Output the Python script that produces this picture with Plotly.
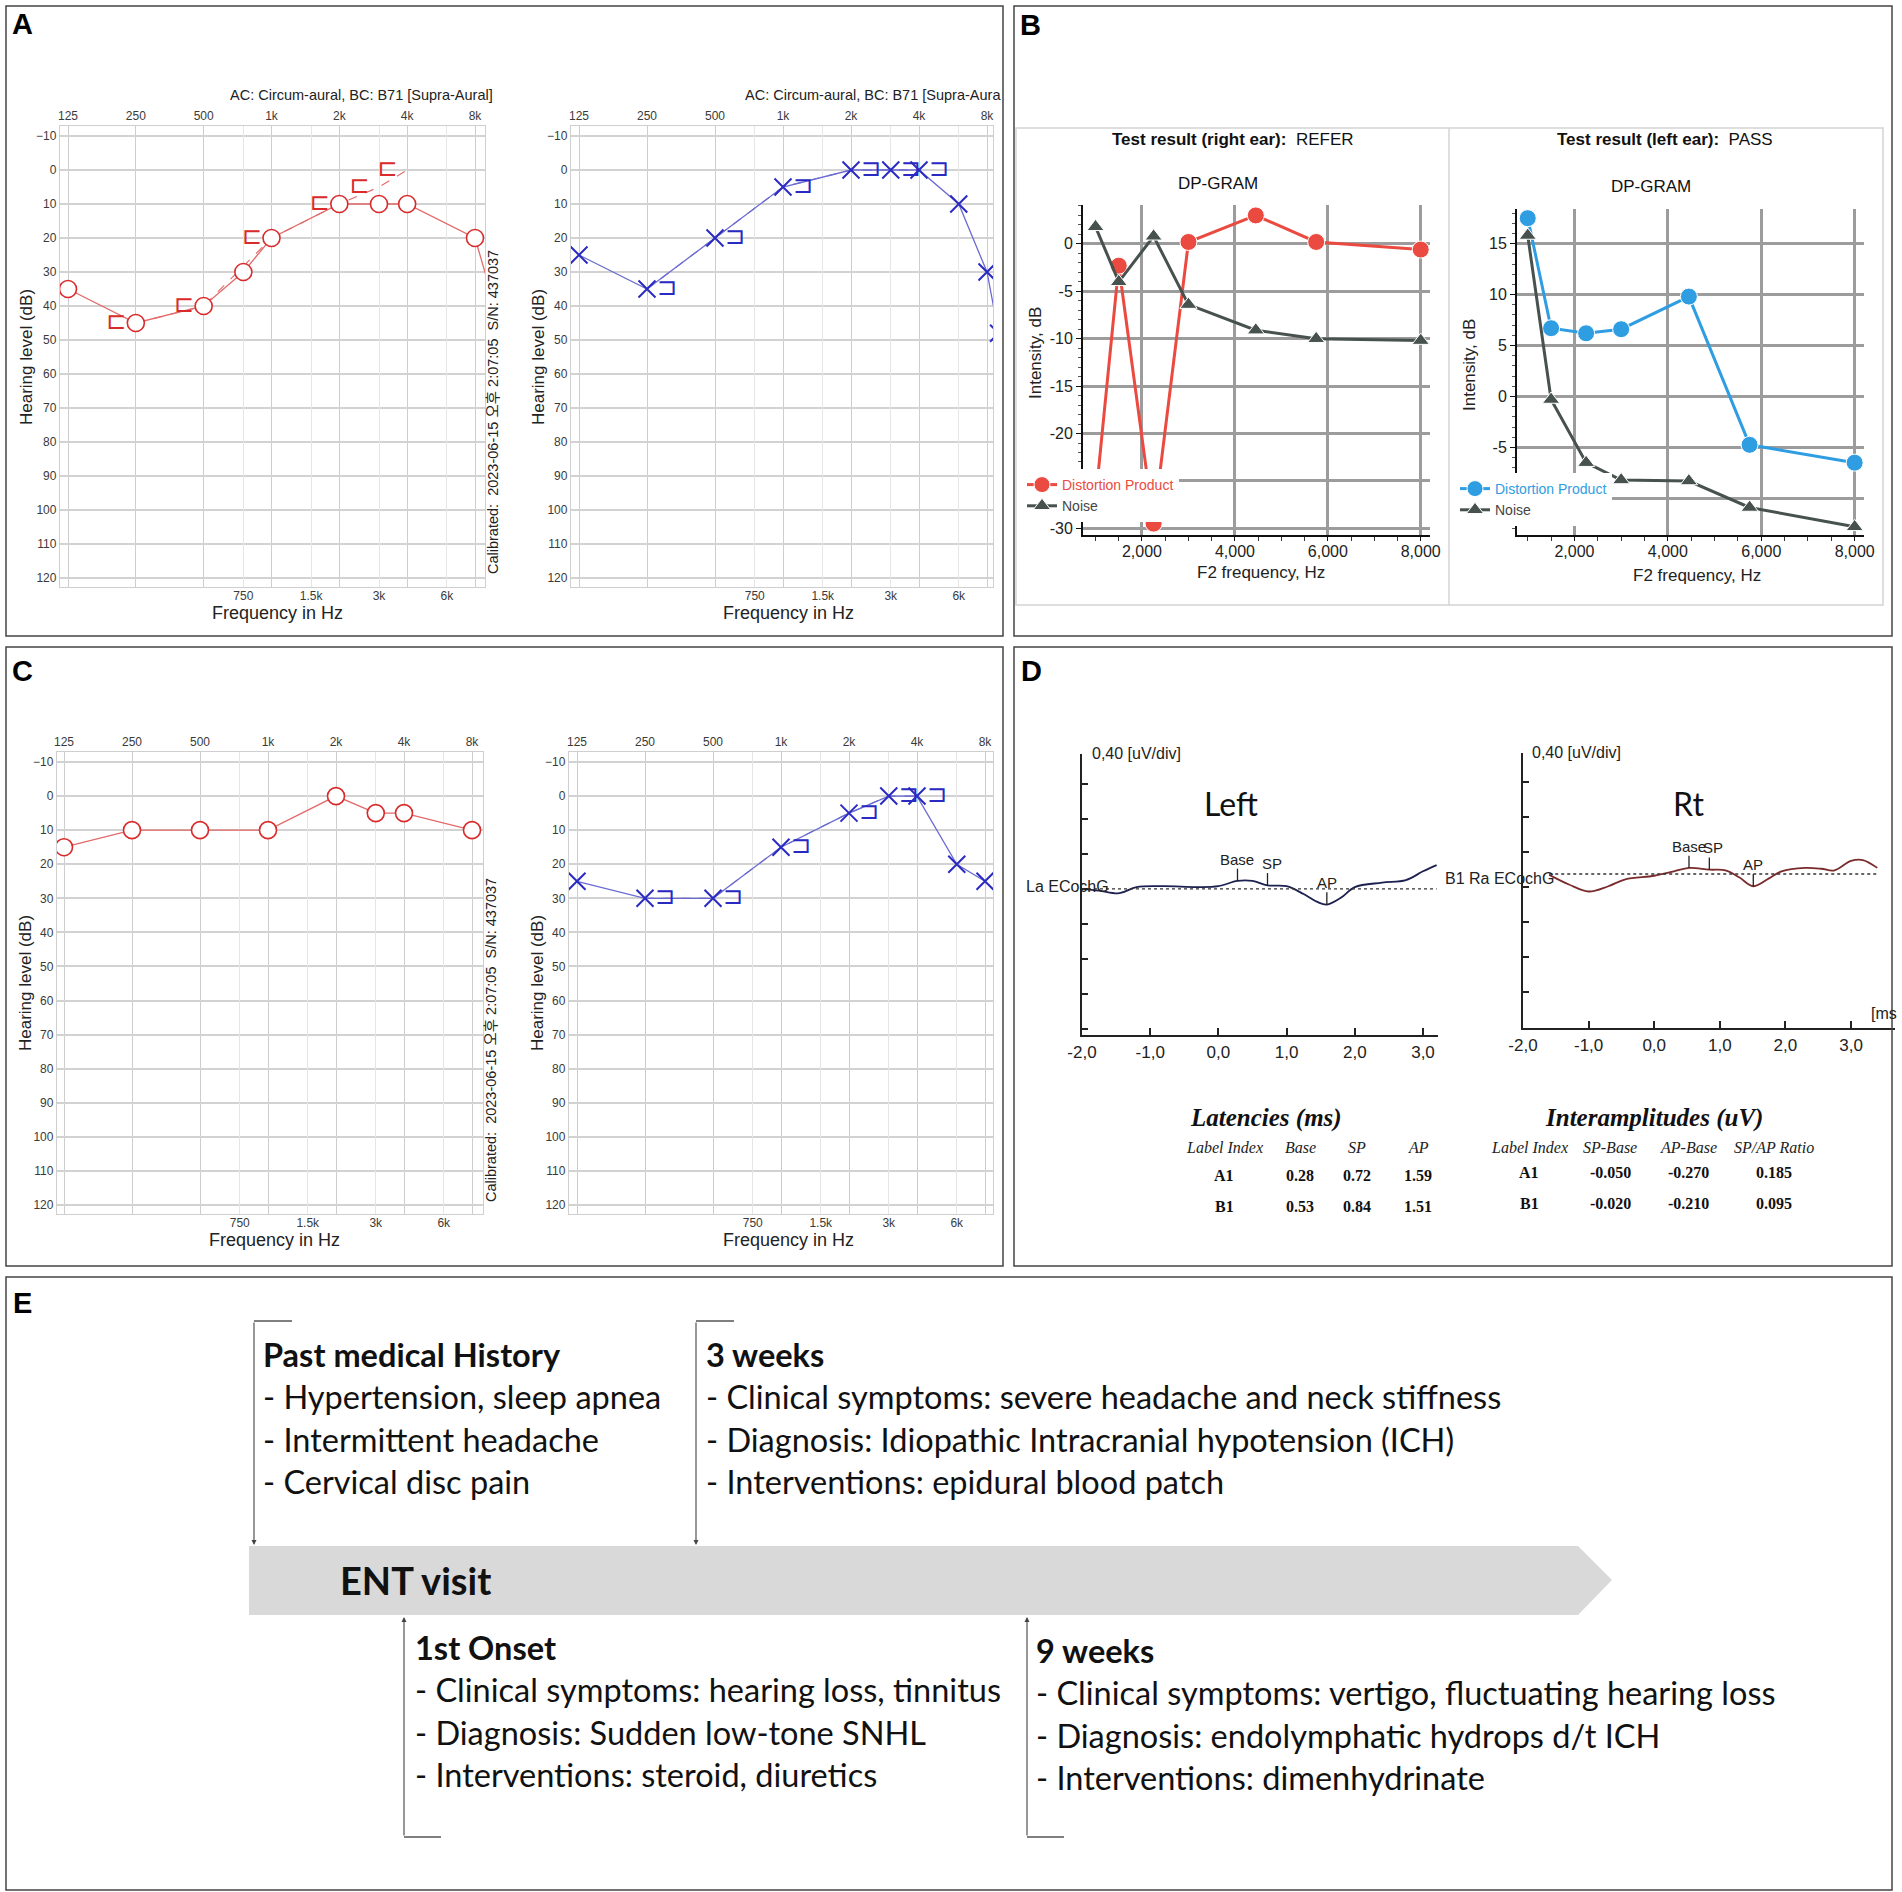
import math
import plotly.graph_objects as go

W, H = 1902, 1892


def X(p):
    return p / W


def Y(p):
    return 1 - p / H


# ---------------------------------------------------------------- data
# Panel A (initial audiogram) - right ear (red): air conduction (O), bone conduction ([)
a_r_ac_hz = [125, 250, 500, 750, 1000, 2000, 3000, 4000, 8000, 10000]
a_r_ac_db = [35, 45, 40, 30, 20, 10, 10, 10, 20, 42]
a_r_bc_hz = [250, 500, 1000, 2000, 3000, 4000]
a_r_bc_db = [45, 40, 20, 10, 5, 0]
# Panel A - left ear (blue): air conduction (X), bone conduction (])
a_l_ac_hz = [125, 250, 500, 1000, 2000, 3000, 4000, 6000, 8000, 9000]
a_l_ac_db = [25, 35, 20, 5, 0, 0, 0, 10, 30, 48]
a_l_bc_hz = [250, 500, 1000, 2000, 3000, 4000]
a_l_bc_db = [35, 20, 5, 0, 0, 0]
# Panel C (follow-up audiogram)
c_r_ac_hz = [125, 250, 500, 1000, 2000, 3000, 4000, 8000]
c_r_ac_db = [15, 10, 10, 10, 0, 5, 5, 10]
c_l_ac_hz = [125, 250, 500, 1000, 2000, 3000, 4000, 6000, 8000]
c_l_ac_db = [25, 30, 30, 15, 5, 0, 0, 20, 25]
c_l_bc_hz = [250, 500, 1000, 2000, 3000, 4000]
c_l_bc_db = [30, 30, 15, 5, 0, 0]

aud_major_hz = [125, 250, 500, 1000, 2000, 4000, 8000]
aud_major_lbl = ["125", "250", "500", "1k", "2k", "4k", "8k"]
aud_minor_hz = [750, 1500, 3000, 6000]
aud_minor_lbl = ["750", "1.5k", "3k", "6k"]
aud_db_ticks = list(range(-10, 121, 10))

# Panel B (DPOAE)
dp_hz = [1000, 1500, 2250, 3000, 4450, 5750, 8000]
dp_right_dp = [-27.0, -2.3, -29.5, 0.2, 3.0, 0.2, -0.6]
dp_right_noise = [1.8, -4.0, 0.8, -6.4, -9.1, -10.0, -10.2]
dp_left_dp = [17.5, 6.7, 6.2, 6.6, 9.8, -4.75, -6.5]
dp_left_noise = [15.8, -0.3, -6.5, -8.2, -8.3, -10.9, -12.8]
# y tick labels (the ones behind the legend box are not visible in the original)
dp_right_yticks = [-30, -25, -20, -15, -10, -5, 0]
dp_right_ylbl = ["-30", "", "-20", "-15", "-10", "-5", "0"]
dp_left_yticks = [-10, -5, 0, 5, 10, 15]
dp_left_ylbl = ["", "-5", "0", "5", "10", "15"]

# Panel D (ECochG)
ecg_left_ms = [-2.0, -1.75, -1.45, -1.2, -0.8, -0.3, 0.0, 0.28, 0.5, 0.72, 1.0, 1.25,
               1.45, 1.59, 1.8, 2.0, 2.4, 2.75, 3.0, 3.2]
ecg_left_uv = [0.0, -0.02, -0.05, 0.02, 0.03, 0.02, 0.03, 0.09, 0.09, 0.04, 0.03, -0.06,
               -0.15, -0.18, -0.10, 0.02, 0.07, 0.10, 0.20, 0.27]
ecg_right_ms = [-1.6, -1.3, -1.0, -0.7, -0.44, 0.0, 0.3, 0.53, 0.84, 1.1, 1.3, 1.51,
                1.75, 1.94, 2.3, 2.55, 2.74, 3.0, 3.18, 3.4]
ecg_right_uv = [-0.01, -0.12, -0.20, -0.14, -0.06, -0.02, 0.03, 0.07, 0.05, 0.04, -0.04,
                -0.14, -0.05, 0.03, 0.07, 0.06, 0.04, 0.15, 0.16, 0.07]
ecg_ticks_ms = [-2, -1, 0, 1, 2, 3]
ecg_tick_lbl = ["-2,0", "-1,0", "0,0", "1,0", "2,0", "3,0"]
ecg_base_uv = [0.09, 0.07]  # trace level at Base marker (A1 = left, B1 = right)

tbl_index = ["A1", "B1"]
lat_base = [0.28, 0.53]
lat_sp = [0.72, 0.84]
lat_ap = [1.59, 1.51]
amp_sp_base = [-0.050, -0.020]
amp_ap_base = [-0.270, -0.210]
sp_ap_ratio = [0.185, 0.095]

# Panel E (timeline)
tl_past = ["Past medical History", "- Hypertension, sleep apnea",
           "- Intermittent headache", "- Cervical disc pain"]
tl_3w = ["3 weeks", "- Clinical symptoms: severe headache and neck stiffness",
         "- Diagnosis: Idiopathic Intracranial hypotension (ICH)",
         "- Interventions: epidural blood patch"]
tl_onset = ["1st Onset", "- Clinical symptoms: hearing loss, tinnitus",
            "- Diagnosis: Sudden low-tone SNHL", "- Interventions: steroid, diuretics"]
tl_9w = ["9 weeks", "- Clinical symptoms: vertigo, fluctuating hearing loss",
         "- Diagnosis: endolymphatic hydrops d/t ICH", "- Interventions: dimenhydrinate"]

# ---------------------------------------------------------------- style
SANS = "Liberation Sans, Arial, Noto Sans CJK KR, sans-serif"
NARROW = "Liberation Sans Narrow, Liberation Sans, Arial, sans-serif"
SERIF = "Liberation Serif, Times New Roman, serif"
CAL = "Lato, Noto Sans, sans-serif"
RED = "#d92b2b"
RED_LINE = "#e26a6a"
BLUE = "#2a2ac2"
BLUE_LINE = "#6b6bd2"
TICKF = dict(family=SANS, size=12, color="#3a3a3a")

layout = dict(template="none", width=W, height=H,
              margin=dict(l=0, r=0, t=0, b=0, pad=0, autoexpand=False), autosize=False,
              paper_bgcolor="white", plot_bgcolor="white", showlegend=True,
              font=dict(family=SANS, color="#222"), shapes=[], annotations=[])
traces = []


def sfx(n):
    return "" if n == 1 else str(n)


def ann(x, y, text, size, color="#222", family=SANS, xanchor="center",
        yanchor="middle", angle=0):
    layout["annotations"].append(dict(
        x=X(x), y=Y(y), xref="paper", yref="paper", text=text, showarrow=False,
        font=dict(size=size, color=color, family=family),
        xanchor=xanchor, yanchor=yanchor, textangle=angle))


def line(x0, y0, x1, y1, color="#444", width=1.5, dash="solid"):
    layout["shapes"].append(dict(type="line", xref="paper", yref="paper",
                                 x0=X(x0), y0=Y(y0), x1=X(x1), y1=Y(y1),
                                 line=dict(color=color, width=width, dash=dash),
                                 layer="above"))


def rect(x0, y0, x1, y1, color="#444", width=1.5):
    layout["shapes"].append(dict(type="rect", xref="paper", yref="paper",
                                 x0=X(x0), y0=Y(y0), x1=X(x1), y1=Y(y1),
                                 line=dict(color=color, width=width),
                                 fillcolor="rgba(0,0,0,0)", layer="above"))


# ---------------------------------------------------------------- audiograms
def audiogram(n, left, right, p125, p8k, ym10, y120, top, bottom):
    per = (math.log10(8000) - math.log10(125)) / (p8k - p125)
    xr = [math.log10(125) - (p125 - left) * per, math.log10(8000) + (right - p8k) * per]
    pxdb = (y120 - ym10) / 130.0
    yr = [120 + (bottom - y120) / pxdb, -10 - (ym10 - top) / pxdb]
    layout["xaxis" + sfx(n)] = dict(
        domain=[X(left), X(right)], type="log", range=xr, side="top",
        anchor="y" + sfx(n), tickmode="array", tickvals=aud_major_hz,
        ticktext=aud_major_lbl, showgrid=True, gridcolor="#cdcdcd", gridwidth=1.3,
        showline=True, linecolor="#cfcfcf", linewidth=1.3, mirror=True, ticks="",
        tickfont=TICKF, zeroline=False, fixedrange=True, automargin=False)
    layout["xaxis" + sfx(n + 1)] = dict(
        overlaying="x" + sfx(n), anchor="y" + sfx(n), type="log", range=xr,
        side="bottom", tickmode="array", tickvals=aud_minor_hz, ticktext=aud_minor_lbl,
        showgrid=True, gridcolor="#e6e6e6", gridwidth=1, showline=False, ticks="",
        tickfont=TICKF, zeroline=False, fixedrange=True, automargin=False)
    layout["yaxis" + sfx(n)] = dict(
        domain=[Y(bottom), Y(top)], range=yr, anchor="x" + sfx(n), tickmode="array",
        tickvals=aud_db_ticks, showgrid=True, gridcolor="#d2d2d2", gridwidth=1.5,
        zeroline=False, showline=True, linecolor="#cfcfcf", linewidth=1.3, mirror=True,
        ticks="", tickfont=TICKF, fixedrange=True, automargin=False)


def ac_line(n, hz, db, ear):
    ln = dict(color=RED_LINE if ear == "R" else BLUE_LINE, width=1.3)
    traces.append(go.Scatter(x=hz, y=db, xaxis="x" + sfx(n), yaxis="y" + sfx(n),
                             mode="lines", line=ln, showlegend=False, hoverinfo="skip"))


def ac_marks(n, hz, db, ear):
    if ear == "R":
        mk = dict(symbol="circle", size=17, color="white", line=dict(color=RED, width=1.6))
    else:
        mk = dict(symbol="x-thin-open", size=17, color=BLUE, line=dict(width=2))
    traces.append(go.Scatter(x=hz, y=db, xaxis="x" + sfx(n + 1), yaxis="y" + sfx(n),
                             mode="markers", marker=mk, showlegend=False, hoverinfo="skip"))


def bc_trace(n, hz, db, ear):
    if ear == "R":
        txt, pos, col, lcol = "\u228f", "middle left", RED, RED_LINE
    else:
        txt, pos, col, lcol = "\u2290", "middle right", BLUE, BLUE_LINE
    traces.append(go.Scatter(x=hz, y=db, xaxis="x" + sfx(n + 1), yaxis="y" + sfx(n),
                             mode="lines+markers+text", text=[txt] * len(hz),
                             textposition=pos,
                             textfont=dict(family="DejaVu Sans", size=24, color=col),
                             marker=dict(size=14, color="rgba(0,0,0,0)"),
                             line=dict(color=lcol, width=1.1, dash="dash"),
                             showlegend=False, hoverinfo="skip"))


# A left (right ear), A right (left ear), C left, C right
audiogram(1, 60, 485, 68, 475, 136, 578, 126, 587)
audiogram(3, 571, 993, 579, 987, 136, 578, 126, 587)
audiogram(5, 57, 483, 64, 472, 762, 1205, 752, 1214)
audiogram(7, 569, 993, 577, 985, 762, 1205, 752, 1214)

ac_line(1, a_r_ac_hz, a_r_ac_db, "R")
bc_trace(1, a_r_bc_hz, a_r_bc_db, "R")
ac_marks(1, a_r_ac_hz, a_r_ac_db, "R")
ac_line(3, a_l_ac_hz, a_l_ac_db, "L")
bc_trace(3, a_l_bc_hz, a_l_bc_db, "L")
ac_marks(3, a_l_ac_hz, a_l_ac_db, "L")
ac_line(5, c_r_ac_hz, c_r_ac_db, "R")
ac_marks(5, c_r_ac_hz, c_r_ac_db, "R")
ac_line(7, c_l_ac_hz, c_l_ac_db, "L")
bc_trace(7, c_l_bc_hz, c_l_bc_db, "L")
ac_marks(7, c_l_ac_hz, c_l_ac_db, "L")

for (xc, ym) in [(27, 357), (539, 357), (25, 983), (537, 983)]:
    ann(xc, ym, "Hearing level (dB)", 17, "#222", SANS, angle=-90)
for (xc, ym) in [(277, 613), (788, 613), (274, 1240), (788, 1240)]:
    ann(xc, ym, "Frequency in Hz", 18, "#222", SANS)
ann(495, 95, "AC: Circum-aural, BC: B71 [Supra-Aural]", 14.5, "#222", SANS, xanchor="right")
ann(743, 95, "AC: Circum-aural, BC: B71 [Supra-Aura", 14.5, "#222", SANS, xanchor="left")
ann(493, 412, "Calibrated:  2023-06-15 \uc624\ud6c4 2:07:05  S/N: 437037", 14.5, "#222", SANS, angle=-90)
ann(491, 1040, "Calibrated:  2023-06-15 \uc624\ud6c4 2:07:05  S/N: 437037", 14.5, "#222", SANS, angle=-90)

# ---------------------------------------------------------------- DPOAE
DPF = dict(family=SANS, size=16, color="#222")


def dp_axes(n, left, right, top, bottom, xr, yr, ytv, ytt):
    layout["xaxis" + sfx(n)] = dict(
        domain=[X(left), X(right)], range=xr, anchor="y" + sfx(n), tick0=0, dtick=2000,
        tickformat=",d", showgrid=True, gridcolor="#9c9c9c", gridwidth=3.2,
        showline=True, linecolor="#111", linewidth=2, ticks="outside", ticklen=4,
        tickcolor="#111", minor=dict(dtick=500, tick0=0, ticks="outside", ticklen=4,
                                     tickcolor="#333", showgrid=False),
        ticklabelstandoff=-3, zeroline=False, tickfont=DPF, fixedrange=True,
        automargin=False)
    layout["yaxis" + sfx(n)] = dict(
        domain=[Y(bottom), Y(top)], range=yr, anchor="x" + sfx(n), tickmode="array",
        tickvals=ytv, ticktext=ytt,
        showgrid=True, gridcolor="#9c9c9c", gridwidth=3.2, showline=True,
        linecolor="#111", linewidth=2, ticks="outside", ticklen=5, tickcolor="#111",
        minor=dict(tick0=0, dtick=1, ticks="outside", ticklen=3, tickcolor="#555",
                   showgrid=False),
        zeroline=False, tickfont=DPF, fixedrange=True, automargin=False)


dp_axes(9, 1083, 1430, 205, 535, [730, 8200], [-30.7, 4.1], dp_right_yticks, dp_right_ylbl)
dp_axes(10, 1517, 1864, 209, 535, [770, 8200], [-13.6, 18.4], dp_left_yticks, dp_left_ylbl)

DP_RED = "#ea4a40"
DP_BLUE = "#2f9de2"
NOISE = "#47524f"
for n, dpv, nv, col, lg in [(9, dp_right_dp, dp_right_noise, DP_RED, "legend"),
                             (10, dp_left_dp, dp_left_noise, DP_BLUE, "legend2")]:
    traces.append(go.Scatter(
        x=dp_hz, y=dpv, xaxis="x" + sfx(n), yaxis="y" + sfx(n), mode="lines+markers",
        line=dict(color=col, width=3), legend=lg,
        marker=dict(symbol="circle", size=17, color=col, line=dict(color="white", width=1)),
        name='<span style="color:%s">Distortion Product</span>' % col, hoverinfo="skip"))
    traces.append(go.Scatter(
        x=dp_hz, y=nv, xaxis="x" + sfx(n), yaxis="y" + sfx(n), mode="lines+markers",
        line=dict(color=NOISE, width=3), legend=lg,
        marker=dict(symbol="triangle-up", size=15, color=NOISE,
                    line=dict(color="white", width=1)),
        name='<span style="color:#444">Noise</span>', hoverinfo="skip"))

LEG = dict(bgcolor="white", borderwidth=0, font=dict(family=SANS, size=14, color="#444"),
           itemwidth=30, tracegroupgap=0, xanchor="left", yanchor="top")
layout["legend"] = dict(LEG, x=X(1022), y=Y(469))
layout["legend2"] = dict(LEG, x=X(1455), y=Y(473))

ann(1233, 139, "<b>Test result (right ear):</b>  REFER", 17, "#111", SANS)
ann(1665, 139, "<b>Test result (left ear):</b>  PASS", 17, "#111", SANS)
ann(1218, 183, "DP-GRAM", 17, "#111", SANS)
ann(1651, 186, "DP-GRAM", 17, "#111", SANS)
ann(1036, 353, "Intensity, dB", 17, "#222", SANS, angle=-90)
ann(1469, 365, "Intensity, dB", 17, "#222", SANS, angle=-90)
ann(1261, 573, "F2 frequency, Hz", 17, "#222", SANS)
ann(1697, 575, "F2 frequency, Hz", 17, "#222", SANS)
rect(1016, 128, 1883, 605, "#d4d4d4", 1.5)
line(1449, 128, 1449, 605, "#d4d4d4", 1.5)

# ---------------------------------------------------------------- ECochG
ECF = dict(family=NARROW, size=17, color="#222")


def ecg_axes(n, left, right, top, bottom, xr, yr, t0):
    layout["xaxis" + sfx(n)] = dict(
        domain=[X(left), X(right)], range=xr, anchor="y" + sfx(n), tickmode="array",
        tickvals=ecg_ticks_ms, ticktext=ecg_tick_lbl, showgrid=False, zeroline=False,
        showline=True, linecolor="#222", linewidth=2.2, ticks="inside", ticklen=7,
        tickcolor="#222", tickwidth=1.5, tickfont=ECF, fixedrange=True, automargin=False)
    layout["yaxis" + sfx(n)] = dict(
        domain=[Y(bottom), Y(top)], range=yr, anchor="x" + sfx(n), tick0=t0, dtick=0.4,
        showticklabels=False, showgrid=False, zeroline=False, showline=True,
        linecolor="#222", linewidth=1.6, ticks="inside", ticklen=6, tickcolor="#222",
        tickwidth=1.5, fixedrange=True, automargin=False)


ecg_axes(11, 1082, 1438, 754, 1035, [-2.0, 3.22], [-1.67, 1.54], 0)
ecg_axes(12, 1523, 1895, 753, 1028, [-2.0, 3.67], [-1.76, 1.383], -0.15)

for i, (n, tt, vv, col) in enumerate([(11, ecg_left_ms, ecg_left_uv, "#1d2150"),
                                      (12, ecg_right_ms, ecg_right_uv, "#7a2b2b")]):
    layout["shapes"].append(dict(type="line", xref="x" + sfx(n), yref="y" + sfx(n),
                                 x0=min(tt), x1=max(tt), y0=0, y1=0,
                                 line=dict(color="#333", width=1.3, dash="dot")))
    traces.append(go.Scatter(x=tt, y=vv, xaxis="x" + sfx(n), yaxis="y" + sfx(n),
                             mode="lines", line=dict(color=col, width=1.8, shape="spline"),
                             showlegend=False, hoverinfo="skip"))
    lats = [lat_base[i], lat_sp[i], lat_ap[i]]
    amps = [ecg_base_uv[i], ecg_base_uv[i] + amp_sp_base[i], ecg_base_uv[i] + amp_ap_base[i]]
    mx, my = [], []
    for la, am in zip(lats, amps):
        mx += [la, la, None]
        my += [am, am + 0.14, None]
    traces.append(go.Scatter(x=mx, y=my, xaxis="x" + sfx(n), yaxis="y" + sfx(n),
                             mode="lines", line=dict(color="#222", width=1.3),
                             showlegend=False, hoverinfo="skip"))
    for lab, la, am in zip(["Base", "SP", "AP"], lats, amps):
        layout["annotations"].append(dict(
            x=la, y=am + 0.14, xref="x" + sfx(n), yref="y" + sfx(n), text=lab,
            showarrow=False, yanchor="bottom", xanchor="center", yshift=-1,
            xshift=(4 if lab == "SP" else 0),
            font=dict(family=NARROW, size=15, color="#222")))

ann(1090, 753, "0,40 [uV/div]", 16, "#222", NARROW, xanchor="left")
ann(1530, 752, "0,40 [uV/div]", 16, "#222", NARROW, xanchor="left")
ann(1231, 804, "Left", 32, "#111", CAL)
ann(1689, 804, "Rt", 32, "#111", CAL)
ann(1024, 886, "La ECochG", 16, "#222", NARROW, xanchor="left")
ann(1443, 878, "B1 Ra ECochG", 16, "#222", NARROW, xanchor="left")
ann(1869, 1013, "[ms", 16, "#222", NARROW, xanchor="left")

# tables
ann(1266, 1118, "<b><i>Latencies (ms)</i></b>", 25, "#111", SERIF)
ann(1654, 1118, "<b><i>Interamplitudes (uV)</i></b>", 25, "#111", SERIF)
lat_cols = [1224, 1300, 1357, 1418]
amp_cols = [1529, 1610, 1688, 1774]
for xc, h in zip(lat_cols, ["Label Index", "Base", "SP", "AP"]):
    ann(xc, 1147, "<i>%s</i>" % h, 16, "#222", SERIF)
for xc, h in zip(amp_cols, ["Label Index", "SP-Base", "AP-Base", "SP/AP Ratio"]):
    ann(xc, 1147, "<i>%s</i>" % h, 16, "#222", SERIF)
for r, yy in enumerate([1175, 1206]):
    vals = [tbl_index[r], "%.2f" % lat_base[r], "%.2f" % lat_sp[r], "%.2f" % lat_ap[r]]
    for xc, v in zip(lat_cols, vals):
        ann(xc, yy, "<b>%s</b>" % v, 16, "#111", SERIF)
    vals = [tbl_index[r], "%.3f" % amp_sp_base[r], "%.3f" % amp_ap_base[r], "%.3f" % sp_ap_ratio[r]]
    for xc, v in zip(amp_cols, vals):
        ann(xc, yy - 3, "<b>%s</b>" % v, 16, "#111", SERIF)

# ---------------------------------------------------------------- timeline (E)
layout["shapes"].append(dict(
    type="path", xref="paper", yref="paper", layer="above",
    path="M %f,%f L %f,%f L %f,%f L %f,%f L %f,%f Z" % (
        X(249), Y(1546), X(1578), Y(1546), X(1612), Y(1580), X(1578), Y(1615),
        X(249), Y(1615)),
    fillcolor="#d9d9d9", line=dict(width=0)))
ann(338, 1580, "<b>ENT visit</b>", 38, "#111", CAL, xanchor="left")


def tl_block(x_line, x_text, y_first, lines, top_side):
    step = 42.6
    for k, t in enumerate(lines):
        txt = "<b>%s</b>" % t if k == 0 else t
        ann(x_text, y_first + k * step, txt, 32.5, "#111", CAL, xanchor="left")
    if top_side:
        y_end, y_head = 1321, 1545
        line(x_line, y_end, x_line + 38, y_end, "#555", 1.3)
    else:
        y_end, y_head = 1837, 1617
        line(x_line, y_end, x_line + 37, y_end, "#555", 1.3)
    layout["annotations"].append(dict(
        x=X(x_line), y=Y(y_head), xref="paper", yref="paper", text="", showarrow=True,
        ax=0, ay=(y_end - y_head), arrowhead=2, arrowsize=0.9, arrowwidth=1.1,
        arrowcolor="#444", standoff=0))


tl_block(254, 261, 1354, tl_past, True)
tl_block(696, 704, 1354, tl_3w, True)
tl_block(404, 413, 1647, tl_onset, False)
tl_block(1027, 1034, 1650, tl_9w, False)

# ---------------------------------------------------------------- panel frames & letters
rect(6, 6, 1003, 636)
rect(1014, 6, 1892, 636)
rect(6, 647, 1003, 1266)
rect(1014, 647, 1892, 1266)
rect(6, 1277, 1892, 1890)
for lt, xx, yy in [("A", 22, 24), ("B", 1030, 25), ("C", 22, 671), ("D", 1031, 671), ("E", 22, 1303)]:
    ann(xx, yy, "<b>%s</b>" % lt, 29, "#000", SANS)

fig = go.Figure(data=traces, layout=layout)
fig.write_html("out.html", config={"responsive": False, "displayModeBar": False},
               post_script="document.body.style.margin='0px';"
                           "document.body.style.padding='0px';"
                           "document.documentElement.style.overflow='hidden';")
